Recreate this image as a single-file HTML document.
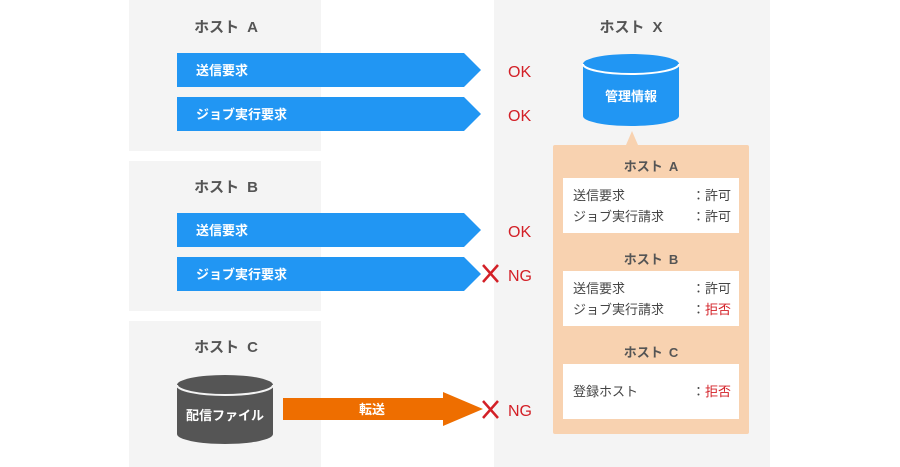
<!DOCTYPE html>
<html><head><meta charset="utf-8"><style>
html,body{margin:0;padding:0;background:#fff;}
svg{display:block;}
text{font-family:"Liberation Sans","Noto Sans CJK JP",sans-serif;}
</style></head><body>
<svg width="900" height="467" viewBox="0 0 900 467" xmlns="http://www.w3.org/2000/svg">
<rect x="129" y="0" width="192" height="151" fill="#f4f4f4"/>
<rect x="129" y="161" width="192" height="150" fill="#f4f4f4"/>
<rect x="129" y="321" width="192" height="146" fill="#f4f4f4"/>
<rect x="494" y="0" width="276" height="467" fill="#f4f4f4"/>

<g font-size="15" font-weight="bold" fill="#555" text-anchor="middle">
<text x="226" y="32">ホスト<tspan dx="8">A</tspan></text>
<text x="226" y="192">ホスト<tspan dx="8">B</tspan></text>
<text x="226" y="352">ホスト<tspan dx="8">C</tspan></text>
<text x="631" y="32">ホスト<tspan dx="8">X</tspan></text>
</g>

<g fill="#2196f3">
<polygon points="177,53 464,53 481,70 464,87 177,87"/>
<polygon points="177,97 464,97 481,114 464,131 177,131"/>
<polygon points="177,213 464,213 481,230 464,247 177,247"/>
<polygon points="177,257 464,257 481,274 464,291 177,291"/>
</g>
<g font-size="13" font-weight="bold" fill="#fff">
<text x="196" y="75">送信要求</text>
<text x="196" y="119">ジョブ実行要求</text>
<text x="196" y="235">送信要求</text>
<text x="196" y="279">ジョブ実行要求</text>
</g>

<polygon points="283,398 443,398 443,392 483,409 443,426 443,420 283,420" fill="#ee6e00"/>
<text x="372" y="414" font-size="13" font-weight="bold" fill="#fff" text-anchor="middle">転送</text>

<g font-size="16" fill="#d32027">
<text x="508" y="77">OK</text>
<text x="508" y="121">OK</text>
<text x="508" y="237">OK</text>
<text x="508" y="281">NG</text>
<text x="508" y="416">NG</text>
</g>
<g stroke="#d32027" stroke-width="2.5">
<line x1="483" y1="265" x2="498" y2="282"/><line x1="498" y1="265" x2="483" y2="282"/>
<line x1="483" y1="401" x2="498" y2="418"/><line x1="498" y1="401" x2="483" y2="418"/>
</g>

<path d="M583,64 L583,116 A48,10 0 0 0 679,116 L679,64 Z" fill="#2196f3"/>
<ellipse cx="631" cy="64" rx="48" ry="10" fill="#2196f3"/>
<path d="M583,64 A48,10 0 0 0 679,64" fill="none" stroke="#fff" stroke-width="2"/>
<text x="631" y="101" font-size="13" font-weight="bold" fill="#fff" text-anchor="middle">管理情報</text>

<path d="M177,385 L177,434 A48,10 0 0 0 273,434 L273,385 Z" fill="#555"/>
<ellipse cx="225" cy="385" rx="48" ry="10" fill="#555"/>
<path d="M177,385 A48,10 0 0 0 273,385" fill="none" stroke="#f4f4f4" stroke-width="2"/>
<text x="225" y="420" font-size="13" font-weight="bold" fill="#fff" text-anchor="middle">配信ファイル</text>

<polygon points="626,145 632,131 638,145" fill="#f8d2b0"/>
<rect x="553" y="145" width="196" height="289" rx="2" fill="#f8d2b0"/>
<rect x="563" y="178" width="176" height="55" fill="#fff"/>
<rect x="563" y="271" width="176" height="55" fill="#fff"/>
<rect x="563" y="364" width="176" height="55" fill="#fff"/>
<g font-size="13" font-weight="bold" fill="#555" text-anchor="middle">
<text x="651" y="171">ホスト<tspan dx="6">A</tspan></text>
<text x="651" y="264">ホスト<tspan dx="6">B</tspan></text>
<text x="651" y="357">ホスト<tspan dx="6">C</tspan></text>
</g>
<g font-size="13" fill="#444">
<text x="573" y="200">送信要求</text>
<text x="573" y="221">ジョブ実行請求</text>
<text x="573" y="293">送信要求</text>
<text x="573" y="314">ジョブ実行請求</text>
<text x="573" y="396">登録ホスト</text>
<text x="692" y="200">：許可</text>
<text x="692" y="221">：許可</text>
<text x="692" y="293">：許可</text>
<text x="692" y="314">：<tspan fill="#d32027">拒否</tspan></text>
<text x="692" y="396">：<tspan fill="#d32027">拒否</tspan></text>
</g>
</svg>
</body></html>
